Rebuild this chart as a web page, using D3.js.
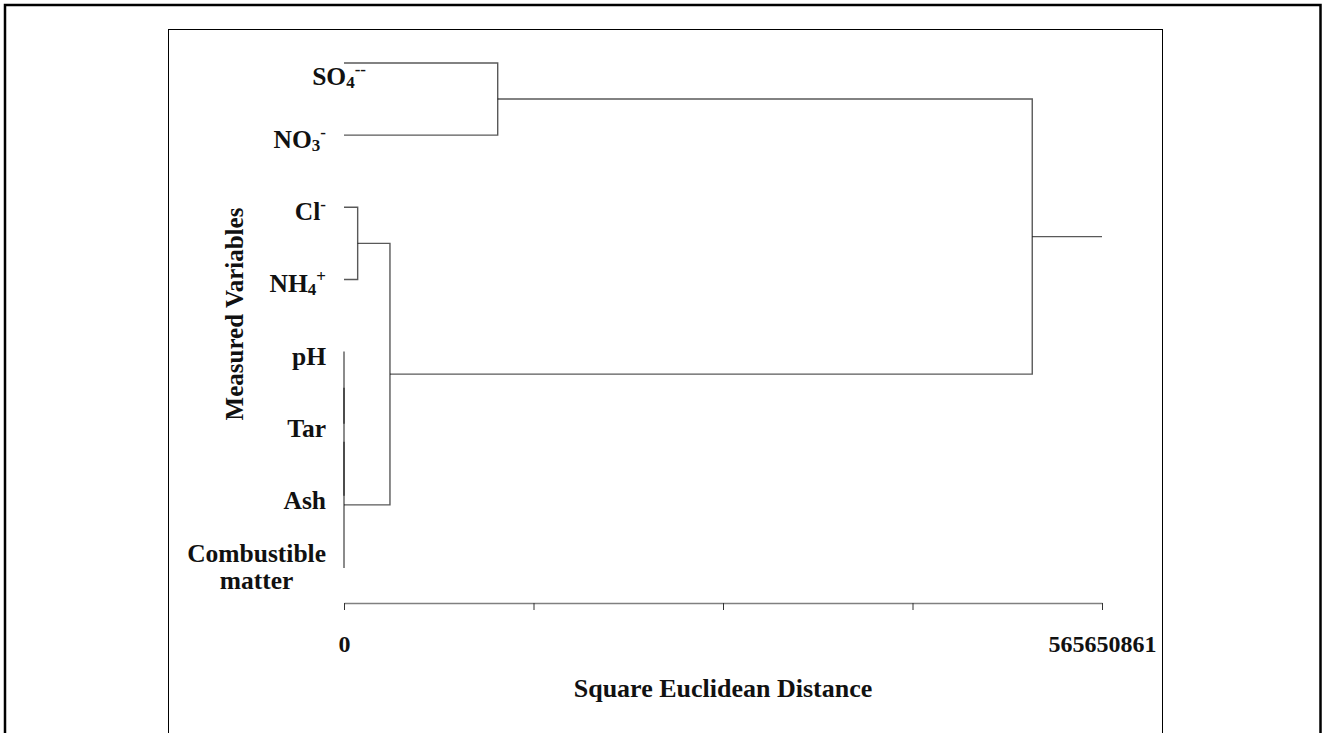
<!DOCTYPE html>
<html>
<head>
<meta charset="utf-8">
<script src="https://cdn.jsdelivr.net/npm/d3@7"></script>
<style>
  body { margin: 0; background: #fff; }
  text { font-family: "Liberation Serif", "Times New Roman", serif; font-weight: bold; fill: #111; }
</style>
</head>
<body>
<script>
// Leaf order (top to bottom) and the merge steps of the clustering
const leaves = ["SO4--", "NO3-", "Cl-", "NH4+", "pH", "Tar", "Ash", "Combustible matter"];
const mergeLeft  = ["pH", "m0", "m1", "Cl-",    "m3",     "SO4--",   "m5"];
const mergeRight = ["Tar", "Ash", "Combustible matter", "NH4+", "m2", "NO3-", "m4"];
const mergeDist  = [0, 0, 0, 10200000, 34300000, 114700000, 513600000];
const maxDistance = 565650861;
const tickLabels = ["0", "", "", "", "565650861"];
const xTitle = "Square Euclidean Distance";
const yTitle = "Measured Variables";

const W = 1326, H = 733;

const svg = d3.select("body").append("svg")
    .attr("width", W)
    .attr("height", H);

// Frames
svg.append("rect")
    .attr("x", 5).attr("y", 5)
    .attr("width", 1315.5).attr("height", 800)
    .attr("fill", "none").attr("stroke", "#000").attr("stroke-width", 2.5);
svg.append("rect")
    .attr("x", 168.5).attr("y", 29.5)
    .attr("width", 994).attr("height", 800)
    .attr("fill", "none").attr("stroke", "#000").attr("stroke-width", 1);

// Scales
const xScale = d3.scaleLinear().domain([0, maxDistance]).range([344, 1102]);
const yScale = d3.scalePoint().domain(leaves).range([63, 568]);

// Node positions
const nodes = {};
leaves.forEach(l => nodes[l] = { x: xScale(0), y: yScale(l) });
const links = [];
mergeDist.forEach((d, i) => {
    const a = nodes[mergeLeft[i]], b = nodes[mergeRight[i]];
    const n = { x: xScale(d), y: (a.y + b.y) / 2 };
    nodes["m" + i] = n;
    links.push(`M${a.x},${a.y}H${n.x}V${b.y}H${b.x}`);
});
const root = nodes["m" + (mergeDist.length - 1)];
links.push(`M${root.x},${root.y}H${xScale(maxDistance)}`);

svg.append("g").selectAll("path")
    .data(links)
    .enter().append("path")
    .attr("d", d => d)
    .attr("fill", "none")
    .attr("stroke", "#000")
    .attr("stroke-opacity", 0.65)
    .attr("stroke-width", 1.4);

// Leaf labels
const labelRight = 326;
const labelG = svg.append("g").attr("font-size", 25.5);
leaves.forEach(l => {
    const y = yScale(l) + 13;
    if (l.includes(" ")) {
        const words = l.split(" ");
        const t = labelG.append("text").attr("text-anchor", "middle");
        words.forEach((w, i) => {
            t.append("tspan").attr("x", 0).attr("y", y - 19 + i * 27).text(w);
        });
        const bw = t.node().getBBox().width;
        t.selectAll("tspan").attr("x", labelRight - bw / 2);
        return;
    }
    const m = l.match(/^([A-Za-z]+?)(\d*)([+-]*)$/);
    // SO4 label sits lower and further right in the original
    const nudge = l === "SO4--" ? [40, 9] : [0, 0];
    const t = labelG.append("text")
        .attr("text-anchor", "end")
        .attr("x", labelRight + nudge[0])
        .attr("y", y + nudge[1])
        .text(m[1]);
    if (m[2]) t.append("tspan").attr("font-size", 17).attr("dy", 3).text(m[2]);
    if (m[3]) t.append("tspan").attr("font-size", 17).attr("dy", m[2] ? -13 : -10).text(m[3]);
});

// Axis
const ticks = tickLabels.map((_, i) => maxDistance * i / (tickLabels.length - 1));
const axisG = svg.append("g")
    .attr("transform", "translate(0,603)")
    .call(d3.axisBottom(xScale)
        .tickValues(ticks)
        .tickSize(7)
        .tickSizeOuter(0)
        .tickFormat((d, i) => tickLabels[i]));
axisG.select(".domain").attr("stroke", "#808080").attr("stroke-width", 1.5);
axisG.selectAll(".tick line").attr("stroke", "#333");
axisG.selectAll(".tick text")
    .attr("y", 49).attr("dy", 0)
    .attr("font-size", 24)
    .attr("font-family", "Liberation Serif, serif")
    .attr("font-weight", "bold")
    .attr("fill", "#111");

// Titles
svg.append("text")
    .attr("x", 723).attr("y", 697)
    .attr("text-anchor", "middle")
    .attr("font-size", 26)
    .text(xTitle);
svg.append("text")
    .attr("transform", "translate(243,314) rotate(-90)")
    .attr("text-anchor", "middle")
    .attr("font-size", 25)
    .text(yTitle);
</script>
</body>
</html>
